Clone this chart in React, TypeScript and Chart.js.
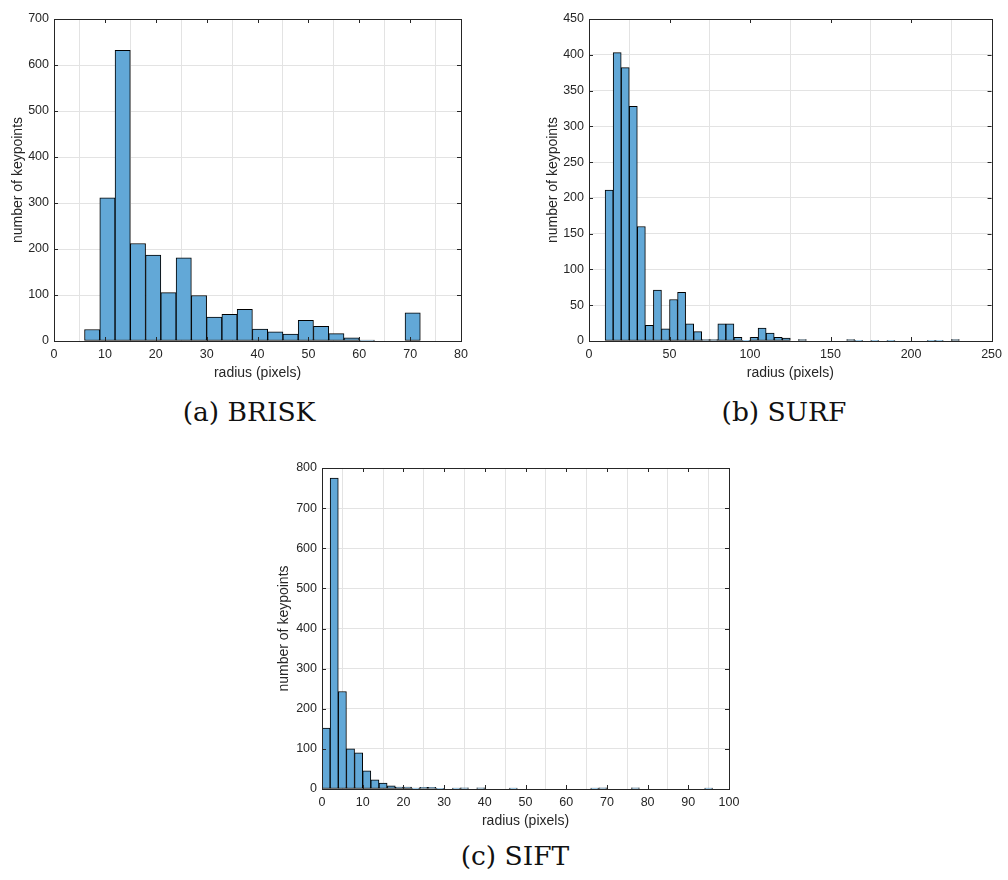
import React, { useEffect, useRef } from "react";
import { Chart, registerables } from "chart.js";

Chart.register(...registerables);

// ---------- DATA ----------
// BRISK: bins of width 3 starting at radius 6
const briskBinStart = 6;
const briskBinWidth = 3;
const briskCounts = [25, 311, 632, 212, 187, 105, 181, 99, 52, 58, 69, 26, 20, 15, 45, 32, 16, 7, 2, 0, 0, 61];
const briskXRange = [0, 80, 10];
const briskYRange = [0, 700, 100];

// SURF: bins of width 5 starting at radius 10
const surfBinStart = 10;
const surfBinWidth = 5;
const surfCounts = [
  211, 403, 382, 328, 160, 22, 71, 17, 58, 68,
  24, 13, 2, 2, 24, 24, 5, 1, 5, 18,
  11, 5, 4, 0, 2, 0, 0, 0, 0, 0,
  2, 1, 0, 1, 0, 1, 0, 0, 0, 0,
  1, 1, 0, 2,
];
const surfXRange = [0, 250, 50];
const surfYRange = [0, 450, 50];

// SIFT: bins of width 2 starting at radius 0
const siftBinStart = 0;
const siftBinWidth = 2;
const siftCounts = [
  152, 775, 243, 100, 90, 45, 23, 15, 8, 5,
  5, 2, 4, 4, 1, 0, 2, 3, 0, 3,
  0, 0, 0, 2, 0, 0, 0, 0, 0, 0,
  0, 0, 0, 2, 3, 0, 0, 0, 3, 0,
  0, 0, 0, 0, 0, 0, 0, 2,
];
const siftXRange = [0, 100, 10];
const siftYRange = [0, 800, 100];

const xTitle = "radius (pixels)";
const yTitle = "number of keypoints";
const captions = ["(a) BRISK", "(b) SURF", "(c) SIFT"];

// ---------- STYLE ----------
const BAR_FILL = "#62a8d7";
const AXIS_COLOR = "#262626";
const GRID_COLOR = "#e3e3e3";
const SANS = "'Liberation Sans', Arial, Helvetica, sans-serif";

const framePlugin = {
  id: "matlabFrame",
  afterDatasetsDraw(chart: any) {
    const { ctx, chartArea } = chart;
    const { left, right, top, bottom } = chartArea;
    const xs = chart.scales.x;
    const ys = chart.scales.y;
    const tl = 4;
    ctx.save();
    ctx.strokeStyle = AXIS_COLOR;
    ctx.lineWidth = 1;
    ctx.beginPath();
    xs.ticks.forEach((t: any) => {
      const px = Math.round(xs.getPixelForValue(t.value)) + 0.5;
      ctx.moveTo(px, bottom);
      ctx.lineTo(px, bottom - tl);
      ctx.moveTo(px, top);
      ctx.lineTo(px, top + tl);
    });
    ys.ticks.forEach((t: any) => {
      const py = Math.round(ys.getPixelForValue(t.value)) + 0.5;
      ctx.moveTo(left, py);
      ctx.lineTo(left + tl, py);
      ctx.moveTo(right, py);
      ctx.lineTo(right - tl, py);
    });
    ctx.stroke();
    ctx.strokeRect(Math.round(left) + 0.5, Math.round(top) + 0.5, Math.round(right - left), Math.round(bottom - top));
    ctx.restore();
  },
};

type HistProps = {
  left: number;
  top: number;
  width: number;
  height: number;
  yAxisWidth: number;
  padTop: number;
  padRight: number;
  yTitlePad: number;
  binStart: number;
  binWidth: number;
  counts: number[];
  xRange: number[];
  yRange: number[];
};

function Histogram(p: HistProps) {
  const ref = useRef<HTMLCanvasElement | null>(null);
  useEffect(() => {
    if (!ref.current) return;
    const data = p.counts.map((c, i) => ({ x: p.binStart + (i + 0.5) * p.binWidth, y: c }));
    const chart = new Chart(ref.current, {
      type: "bar",
      data: {
        datasets: [
          {
            data: data as any,
            backgroundColor: BAR_FILL,
            borderColor: "#000000",
            borderWidth: 1,
            borderSkipped: false,
            barPercentage: 1,
            categoryPercentage: 1,
          },
        ],
      },
      options: {
        responsive: false,
        animation: false,
        devicePixelRatio: 1,
        layout: { padding: { top: p.padTop, right: p.padRight, left: 0, bottom: 0 } },
        plugins: { legend: { display: false }, tooltip: { enabled: false }, title: { display: false } },
        scales: {
          x: {
            type: "linear",
            offset: false,
            min: p.xRange[0],
            max: p.xRange[1],
            afterFit: (s: any) => {
              s.height = 49;
            },
            ticks: {
              stepSize: p.xRange[2],
              color: AXIS_COLOR,
              font: { family: SANS, size: 12.5 },
              padding: 6,
              maxRotation: 0,
              autoSkip: false,
            },
            grid: { color: GRID_COLOR, drawTicks: false, lineWidth: 1 },
            border: { display: false },
            title: {
              display: true,
              text: xTitle,
              color: AXIS_COLOR,
              font: { family: SANS, size: 14 },
              padding: { top: 0, bottom: 8 },
            },
          },
          y: {
            type: "linear",
            min: p.yRange[0],
            max: p.yRange[1],
            afterFit: (s: any) => {
              s.width = p.yAxisWidth;
            },
            ticks: {
              stepSize: p.yRange[2],
              color: AXIS_COLOR,
              font: { family: SANS, size: 12.5 },
              padding: 5,
            },
            grid: { color: GRID_COLOR, drawTicks: false, lineWidth: 1 },
            border: { display: false },
            title: {
              display: true,
              text: yTitle,
              color: AXIS_COLOR,
              font: { family: SANS, size: 14 },
              padding: { top: p.yTitlePad, bottom: 0 },
            },
          },
        },
      },
      plugins: [framePlugin],
    });
    return () => chart.destroy();
  }, []);
  return (
    <canvas
      ref={ref}
      width={p.width}
      height={p.height}
      style={{ position: "absolute", left: p.left, top: p.top, width: p.width, height: p.height }}
    />
  );
}

const captionStyle = (cx: number, cy: number): React.CSSProperties => ({
  position: "absolute",
  left: cx - 150,
  top: cy - 17,
  width: 300,
  height: 34,
  lineHeight: "34px",
  textAlign: "center",
  fontFamily: "'DejaVu Serif', 'Liberation Serif', serif",
  fontSize: 26.5,
  color: "#111",
  whiteSpace: "nowrap",
});

export default function App() {
  return (
    <div style={{ position: "absolute", left: 0, top: 0, width: 1008, height: 880, background: "#ffffff", overflow: "hidden" }}>
      <Histogram
        left={0}
        top={0}
        width={480}
        height={390}
        yAxisWidth={54}
        padTop={19}
        padRight={19}
        yTitlePad={9.5}
        binStart={briskBinStart}
        binWidth={briskBinWidth}
        counts={briskCounts}
        xRange={briskXRange}
        yRange={briskYRange}
      />
      <Histogram
        left={520}
        top={0}
        width={488}
        height={390}
        yAxisWidth={69}
        padTop={19}
        padRight={11}
        yTitlePad={24.5}
        binStart={surfBinStart}
        binWidth={surfBinWidth}
        counts={surfCounts}
        xRange={surfXRange}
        yRange={surfYRange}
      />
      <Histogram
        left={250}
        top={455}
        width={510}
        height={383}
        yAxisWidth={72}
        padTop={13}
        padRight={31}
        yTitlePad={26}
        binStart={siftBinStart}
        binWidth={siftBinWidth}
        counts={siftCounts}
        xRange={siftXRange}
        yRange={siftYRange}
      />
      <div style={captionStyle(249, 412)}>{captions[0]}</div>
      <div style={captionStyle(784, 412)}>{captions[1]}</div>
      <div style={captionStyle(515, 856)}>{captions[2]}</div>
    </div>
  );
}
